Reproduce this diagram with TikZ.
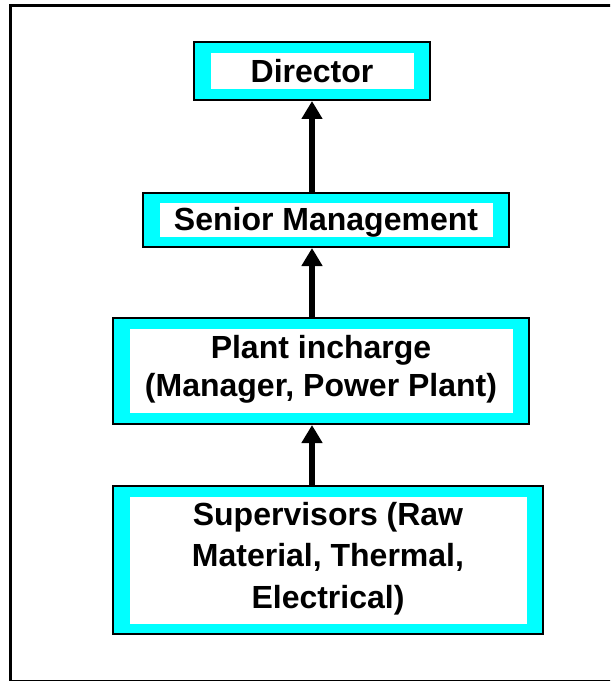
\documentclass[tikz,border=0pt]{standalone}
\usepackage{fontspec}
\setmainfont{Liberation Sans}
\usetikzlibrary{arrows.meta}
\definecolor{boxcyan}{RGB}{0,255,255}
\tikzset{
  outerbox/.style={draw=black, line width=1.5pt, fill=boxcyan, inner sep=0pt},
  innerbox/.style={fill=white, inner sep=0pt},
  label24/.style={font=\bfseries\fontsize{24pt}{28.5pt}\selectfont, align=center, inner sep=0pt},
  uparrow/.style={line width=4.5pt, -{Triangle[width=15pt,length=13.5pt]}}
}
\begin{document}
\begin{tikzpicture}[x=0.75pt,y=-0.75pt]
\clip (0,0) rectangle (610,681);
\draw[line width=2.25pt] (10,681.5) -- (10,5.5) -- (620,5.5);
\draw[line width=1.5pt] (10,680.5) -- (620,680.5);
% Director
\node[outerbox, minimum width=177pt, minimum height=43.5pt] (dir) at (312,71) {};
\node[innerbox, minimum width=152.25pt, minimum height=27pt] (diri) at (312.5,71) {};
\node[label24, anchor=base] (dirt) at (312,83) {Director};
% Senior Management
\node[outerbox, minimum width=274.5pt, minimum height=40.5pt] (sen) at (326,220) {};
\node[innerbox, minimum width=249.75pt, minimum height=25.5pt] (seni) at (326.5,220) {};
\node[label24, anchor=base] (sent) at (326,230) {Senior Management};
% Plant incharge
\node[outerbox, minimum width=312pt, minimum height=79.5pt] (pla) at (321,371) {};
\node[innerbox, minimum width=287.25pt, minimum height=63pt] (plai) at (321.5,371) {};
\node[label24] (plat) at (321,369) {Plant incharge\\(Manager, Power Plant)};
% Supervisors
\node[outerbox, minimum width=322.5pt, minimum height=111pt] (sup) at (328,560) {};
\node[innerbox, minimum width=297.75pt, minimum height=95.25pt] (supi) at (328.5,560.5) {};
\node[label24, font=\bfseries\fontsize{24pt}{31pt}\selectfont] (supt) at (328,558.5) {Supervisors (Raw\\Material, Thermal,\\Electrical)};
% arrows
\draw[uparrow] (sen.north -| dir.south) -- (dir.south);
\draw[uparrow] (pla.north -| dir.south) -- (sen.south -| dir.south);
\draw[uparrow] (sup.north -| dir.south) -- (pla.south -| dir.south);
\end{tikzpicture}
\end{document}
